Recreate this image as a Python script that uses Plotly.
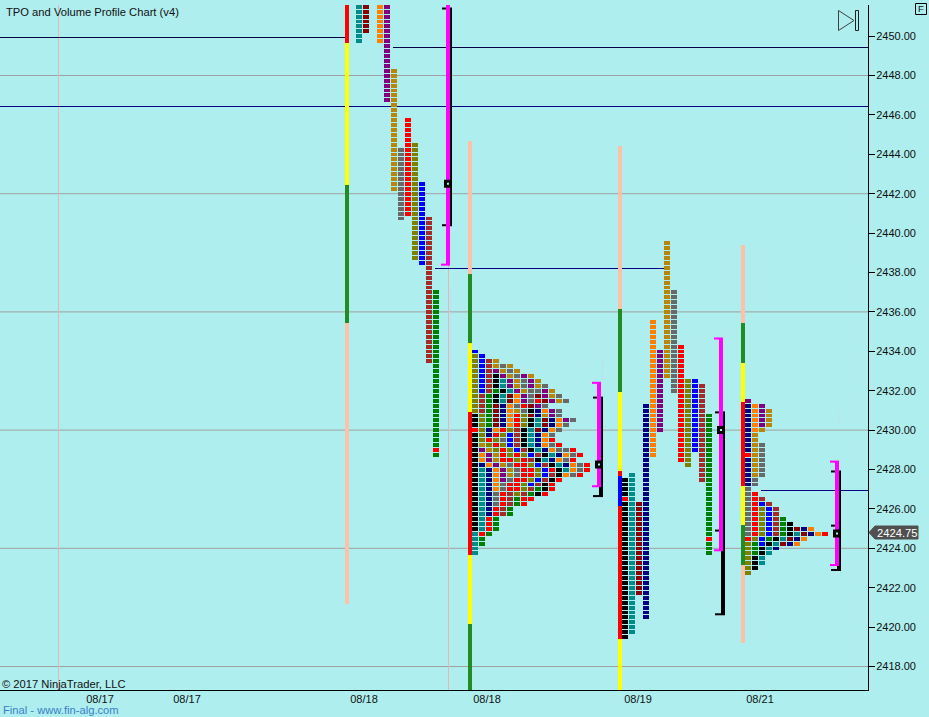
import plotly.graph_objects as go

# ---------- data ----------
TICK = 0.25
COLORS = {"K": "#000000", "T": "#008b8b", "N": "#000080", "R": "#ff0000", "D": "#8b0000",
          "B": "#0000ff", "O": "#ff8000", "G": "#008000", "L": "#808000", "A": "#a52a2a",
          "Y": "#b8860b", "P": "#800080", "E": "#696969"}

# columns: colour code, high price, low price
A_COLUMNS = [("T", 2451.5, 2449.75), ("D", 2451.5, 2450.25), None, ("O", 2451.5, 2449.75),
             ("P", 2451.5, 2446.75), ("Y", 2448.25, 2442.25), ("E", 2444.25, 2440.75),
             ("R", 2445.75, 2441.0), ("L", 2444.5, 2438.75), ("B", 2442.5, 2438.5),
             ("A", 2440.75, 2433.5), ("G", 2437.0, 2428.75)]
A_OVERRIDES = [("R", 11, 2429.0)]

C_COLUMNS = [("K", 2427.5, 2419.5), ("T", 2427.75, 2419.75), ("D", 2426.25, 2421.75),
             ("N", 2431.25, 2420.5), ("O", 2435.5, 2428.75), ("P", 2434.0, 2430.0),
             ("Y", 2439.5, 2432.75), ("E", 2437.0, 2432.0), ("R", 2434.25, 2428.5),
             ("L", 2432.5, 2428.25), ("B", 2432.5, 2429.0), ("A", 2432.25, 2427.5),
             ("G", 2430.75, 2423.75)]
C_OVERRIDES = [("R", 0, 2426.5), ("R", 12, 2424.5)]

# rows: one string per price level, left to right
B_TOP = 2434.0
B_ROWS = ["B", "LB", "LBAY", "LBAYEY", "LBAPYEY", "LBAKPYEPY", "LBAKTPYEPY", "LBAKTPYEPYE",
          "LBAGKTPYEEPY", "LAGKTDOPEDPYE", "LAGKTDOPERDPYE", "LAGDNOERDPE", "LAGDNOYEKNOPE",
          "KLGDNORLDNYPE", "KLGDNORLKTDNOPE", "KLGDNORLKTDNOE", "RLNORLAKTDNOE", "KLNRLBAKTNOE",
          "KLRLEBAKTNOR", "KYLRLBAKTNOER", "KPYLRLBAKTNOEER", "KOPYRLRLBAKTNOER",
          "KOPYRRLRAKTNOER", "KNOPYERRLBAKTNOER", "KTNOPYERRLBRKTOER", "KTNOPYERRLBAKOER",
          "KTNOPERRLBAKR", "KTNOERRLBAKR", "KTNOERRLAGKR", "KTNERALAGKR", "KTNERAGRR",
          "KTNERAGR", "KTNRAG", "KTNRAG", "KTRG", "KTRG", "KTRG", "TRG", "TG", "TG", "T", "T"]

D_TOP = 2431.5
D_ROWS = ["P", "NOP", "NOPY", "NOPY", "NOPY", "NOPY", "NOY", "NY", "NY", "NYE", "NYE", "RYE",
          "NYE", "NYE", "NYE", "NYE", "NE", "NE", "E", "ER", "ERA", "ERBA", "ERLBA", "ERLBA",
          "ERLBAG", "ERLBAGK", "ERLBAGKDNO", "ERLBAGKTDNOR", "RLBGKTDNO", "LGBKTDNO", "LGKTN",
          "LGKT", "LKT", "LKT", "LK", "L"]

# volume-profile bars: list of (colour, upper price, lower price)
VP_A = [("#ff0000", 2451.75, 2449.75), ("#ffff00", 2449.75, 2442.5),
        ("#228b22", 2442.5, 2435.5), ("#ffc0a8", 2435.5, 2421.25)]
VP_B = [("#ffc0a8", 2444.75, 2438.0), ("#228b22", 2438.0, 2434.5), ("#ffff00", 2434.5, 2431.0),
        ("#ff0000", 2431.0, 2423.75), ("#ffff00", 2423.75, 2420.25), ("#228b22", 2420.25, 2416.75)]
VP_C = [("#ffc0a8", 2444.5, 2436.25), ("#228b22", 2436.25, 2432.0), ("#ffff00", 2432.0, 2428.0),
        ("#ff0000", 2428.0, 2427.75), ("#0000ff", 2427.75, 2426.25), ("#ff0000", 2426.25, 2419.5),
        ("#ffff00", 2419.5, 2416.75)]
VP_D = [("#ffc0a8", 2439.5, 2435.5), ("#228b22", 2435.5, 2433.5), ("#ffff00", 2433.5, 2431.5),
        ("#ff0000", 2431.5, 2427.25), ("#ffff00", 2427.25, 2425.25), ("#228b22", 2425.25, 2423.25),
        ("#ffc0a8", 2423.25, 2419.25)]

# session ranges
BLACK_TOP = [2451.5, 2431.75, 2431.0, 2428.0]
BLACK_BOTTOM = [2440.5, 2426.75, 2420.75, 2423.0]
BLACK_MID = [None, None, 2425.0, 2425.25]
MAGENTA_TOP = [2451.9, 2432.5, 2434.75, 2428.5]
MAGENTA_BOTTOM = [2438.5, 2427.25, 2424.0, 2423.25]
CLOSES = [2442.5, 2428.25, 2430.0, 2424.75]

GRID_LEVELS = [2448, 2442, 2436, 2430, 2424, 2418]
LEVEL_LINES = [2449.929, 2449.421, 2446.426, 2438.203, 2426.934]
LAST_PRICE = 2424.75
X_TICK_LABELS = ["08/17", "08/17", "08/18", "08/18", "08/19", "08/21"]

# ---------- layout constants (pixel-like x axis units) ----------
W, H = 929, 717
ML, MR, MT, MB = 0, 61, 5, 27
PXW = W - ML - MR
PXH = H - MT - MB
PX_PER_PT = 19.7
Y2450_PX = 36.1
Y_TOP = 2450 + (Y2450_PX - MT) / PX_PER_PT
Y_BOT = 2450 - (H - MB - Y2450_PX) / PX_PER_PT
PITCH = 7
CELL_W = 6
CELL_H = 0.2
CELL_SHIFT = -0.01
VP_SHIFT = -0.08
RANGE_SHIFT = -0.1
A_X0, B_X0, C_X0, D_X0 = 359, 475, 625, 748
VP_X = [347, 470, 620, 743]
RANGE_X = [448, 599, 721, 837]
X_TICK_POS = [100, 187, 364, 487, 638, 760]
LEVEL_SPANS = [(0, 345), (393, 868), (0, 868), (435, 665), (761, 868)]
LEVEL_COLORS = ["#000040", "#000040", "#000080", "#000080", "#000080"]
BG = "#afeeee"


def px(x):
    return x / PXW


def ppy(y):
    return 1 - (y - MT) / PXH


cells = {k: ([], [], []) for k in COLORS}


def add_cell(code, x, price):
    cells[code][0].append(x)
    cells[code][1].append(price + CELL_SHIFT - CELL_H / 2)
    cells[code][2].append(CELL_H)


def add_columns(columns, overrides, x0):
    over = {(i, p): c for c, i, p in overrides}
    for i, col in enumerate(columns):
        if col is None:
            continue
        code, hi, lo = col
        p = hi
        while p >= lo - 1e-9:
            add_cell(over.get((i, p), code), x0 + i * PITCH, p)
            p -= TICK


def add_rows(rows, top, x0):
    for r, row in enumerate(rows):
        for i, code in enumerate(row):
            add_cell(code, x0 + i * PITCH, top - r * TICK)


add_columns(A_COLUMNS, A_OVERRIDES, A_X0)
add_columns(C_COLUMNS, C_OVERRIDES, C_X0)
add_rows(B_ROWS, B_TOP, B_X0)
add_rows(D_ROWS, D_TOP, D_X0)

fig = go.Figure()

for code, (xs, bases, hs) in cells.items():
    fig.add_trace(go.Bar(x=xs, y=hs, base=bases, width=CELL_W, marker=dict(color=COLORS[code], line_width=0),
                         hoverinfo="skip", showlegend=False))

for vp, xv in zip([VP_A, VP_B, VP_C, VP_D], VP_X):
    for color, hi, lo in vp:
        fig.add_trace(go.Bar(x=[xv], y=[hi - lo], base=[lo + VP_SHIFT], width=4,
                             marker=dict(color=color, line_width=0), hoverinfo="skip", showlegend=False))

# black range bars with ticks
for xr, top, bot, mid in zip(RANGE_X, BLACK_TOP, BLACK_BOTTOM, BLACK_MID):
    fig.add_trace(go.Scatter(x=[xr + 2, xr + 2], y=[top + RANGE_SHIFT, bot + RANGE_SHIFT], mode="lines",
                             line=dict(color="#000000", width=4), hoverinfo="skip", showlegend=False))
    for p in [top, bot, mid]:
        if p is None:
            continue
        fig.add_trace(go.Scatter(x=[xr - 6, xr + 4], y=[p + RANGE_SHIFT, p + RANGE_SHIFT], mode="lines",
                                 line=dict(color="#000000", width=2), hoverinfo="skip", showlegend=False))

# magenta range bars with brackets
for xr, top, bot in zip(RANGE_X, MAGENTA_TOP, MAGENTA_BOTTOM):
    fig.add_trace(go.Scatter(x=[xr, xr], y=[top + RANGE_SHIFT, bot + RANGE_SHIFT], mode="lines",
                             line=dict(color="#ff00ff", width=4), hoverinfo="skip", showlegend=False))
    for p in [top, bot]:
        fig.add_trace(go.Scatter(x=[xr - 7, xr + 2], y=[p + RANGE_SHIFT, p + RANGE_SHIFT], mode="lines",
                                 line=dict(color="#ff00ff", width=2), hoverinfo="skip", showlegend=False))

# close markers
fig.add_trace(go.Scatter(x=RANGE_X, y=CLOSES, mode="markers",
                         marker=dict(symbol="square", size=5, color=BG, line=dict(color="#000000", width=3)),
                         hoverinfo="skip", showlegend=False))

shapes = []
for level in GRID_LEVELS:
    shapes.append(dict(type="line", layer="below", xref="paper", x0=0, x1=1, yref="y", y0=level, y1=level,
                       line=dict(color="#a0a0a0", width=1)))
for xv in [58.5, 448.5]:
    shapes.append(dict(type="line", layer="below", xref="x", x0=xv, x1=xv, yref="paper", y0=0, y1=1,
                       line=dict(color="#e0b8b8", width=1)))
# support / resistance lines
for (x0, x1), level, color in zip(LEVEL_SPANS, LEVEL_LINES, LEVEL_COLORS):
    shapes.append(dict(type="line", layer="below", xref="x", x0=x0, x1=x1, yref="y", y0=level, y1=level,
                       line=dict(color=color, width=1)))
# faint dashed lines
for xv, p0, p1 in [(450.5, 2437.0, 2429.5), (602.5, 2433.5, 2432.5), (602.5, 2428.5, 2426.0), (838.5, 2431.0, 2430.2)]:
    shapes.append(dict(type="line", layer="below", xref="x", x0=xv, x1=xv, yref="y", y0=p0, y1=p1,
                       line=dict(color="#c8d4f8", width=1, dash="3px,2px")))

# price tag
tag_mid = Y2450_PX + (2450 - LAST_PRICE) * PX_PER_PT - 1
tag_top = tag_mid - 6.5
tag_bot = tag_mid + 6.5
tag_path = (f"M {px(869)} {ppy(tag_mid)} L {px(875)} {ppy(tag_top)} L {px(918)} {ppy(tag_top)} "
            f"L {px(918)} {ppy(tag_bot)} L {px(875)} {ppy(tag_bot)} Z")
shapes.append(dict(type="path", xref="paper", yref="paper", path=tag_path, fillcolor="#505050",
                   line=dict(color="#505050", width=1)))
# forward icon
icon = f"M {px(838.5)} {ppy(10.5)} L {px(838.5)} {ppy(30.5)} L {px(854)} {ppy(20.5)} Z"
shapes.append(dict(type="path", xref="paper", yref="paper", path=icon, line=dict(color="#404040", width=1)))
shapes.append(dict(type="rect", xref="paper", yref="paper", x0=px(855.5), x1=px(858.5), y0=ppy(10.5), y1=ppy(30.5),
                   line=dict(color="#202020", width=1)))
# F box
shapes.append(dict(type="rect", xref="paper", yref="paper", x0=px(915.5), x1=px(926.5), y0=ppy(3.5), y1=ppy(14.5),
                   line=dict(color="#000000", width=1)))


def label(x, y, text, size=11.2, color="#101010", anchor="left"):
    return dict(x=px(x), y=ppy(y), xref="paper", yref="paper", text=text, showarrow=False,
                xanchor=anchor, yanchor="middle", align="left",
                font=dict(family="Liberation Sans", size=size, color=color))


annotations = [
    label(4, 12, "TPO and Volume Profile Chart (v4)"),
    label(0, 684, "© 2017 NinjaTrader, LLC"),
    label(1, 710, "Final - www.fin-alg.com", color="#3a80c8"),
    label(875, tag_mid, f"{LAST_PRICE:.2f}", color="#ffffff"),
    label(921, 9, "F", size=9.5, anchor="center"),
]

fig.update_layout(
    width=W, height=H, margin=dict(l=ML, r=MR, t=MT, b=MB, pad=0), autosize=False,
    paper_bgcolor=BG, plot_bgcolor=BG, barmode="overlay", bargap=0, showlegend=False,
    shapes=shapes, annotations=annotations,
    font=dict(family="Liberation Sans", size=11, color="#101010"),
    xaxis=dict(range=[0, PXW], showgrid=False, zeroline=False, showline=True, linecolor="#000000", linewidth=1,
               tickmode="array", tickvals=X_TICK_POS, ticktext=X_TICK_LABELS, ticks="", ticklabelstandoff=-1,
               tickfont=dict(family="Liberation Sans", size=11, color="#101010")),
    yaxis=dict(range=[Y_BOT, Y_TOP], side="right", showgrid=False, zeroline=False, showline=True,
               linecolor="#000000", linewidth=1, ticks="outside", ticklen=6, tickcolor="#000000",
               tick0=2418, dtick=2, tickformat=".2f", ticklabelstandoff=-1,
               tickfont=dict(family="Liberation Sans", size=11, color="#101010")),
)

fig.write_html("out.html", config={"displayModeBar": False},
               post_script="document.body.style.margin='0';document.body.style.background='" + BG + "';document.documentElement.style.overflow='hidden';")
